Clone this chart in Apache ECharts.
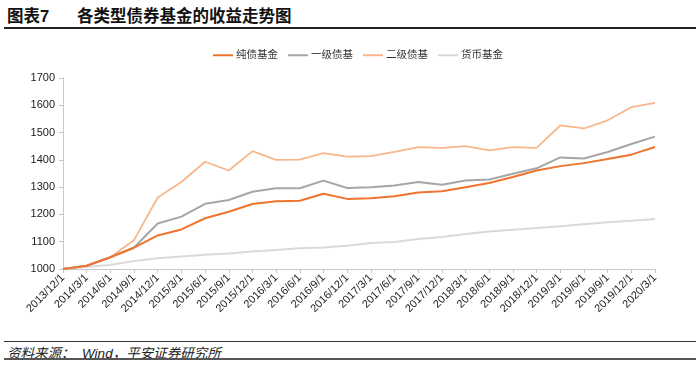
<!DOCTYPE html>
<html>
<head>
<meta charset="utf-8">
<script src="https://cdn.jsdelivr.net/npm/echarts@6/dist/echarts.min.js"></script>
<style>
html,body{margin:0;padding:0;background:#fff;}
#wrap{position:relative;width:700px;height:368px;font-family:"Liberation Sans","Noto Sans CJK SC",sans-serif;}
.title{position:absolute;top:3px;font-size:16.5px;font-weight:bold;color:#111;white-space:pre;}
#tline{position:absolute;left:4px;right:4px;top:27px;height:2px;background:#222;}
#chart{position:absolute;left:0;top:30px;width:700px;height:310px;}
#fline1{position:absolute;left:4px;right:4px;top:341px;height:1px;background:#333;}
#src{position:absolute;left:7px;top:342px;font-size:13.5px;font-style:italic;color:#222;white-space:pre;}
#fline2{position:absolute;left:4px;right:4px;top:358px;height:2px;background:#555;}
</style>
</head>
<body>
<div id="wrap">
<div class="title" style="left:7px">图表7</div>
<div class="title" style="left:77px">各类型债券基金的收益走势图</div>
<div id="tline"></div>
<div id="chart"></div>
<div id="fline1"></div>
<div id="src">资料来源：  Wind，平安证券研究所</div>
<div id="fline2"></div>
</div>
<script>
var categories = ["2013/12/1","2014/3/1","2014/6/1","2014/9/1","2014/12/1","2015/3/1","2015/6/1","2015/9/1","2015/12/1","2016/3/1","2016/6/1","2016/9/1","2016/12/1","2017/3/1","2017/6/1","2017/9/1","2017/12/1","2018/3/1","2018/6/1","2018/9/1","2018/12/1","2019/3/1","2019/6/1","2019/9/1","2019/12/1","2020/3/1"];
var pureBond = [1000,1012,1043,1078,1123,1145,1186,1210,1238,1248,1250,1276,1257,1259,1267,1280,1285,1300,1315,1337,1361,1377,1388,1403,1419,1447];
var primaryBond = [1000,1012,1043,1079,1167,1192,1239,1253,1283,1296,1296,1324,1297,1300,1306,1319,1309,1324,1328,1349,1369,1409,1405,1429,1458,1485];
var secondaryBond = [1000,1012,1043,1106,1262,1319,1393,1361,1432,1400,1401,1425,1412,1414,1429,1447,1444,1450,1435,1447,1444,1526,1515,1545,1593,1609];
var moneyFund = [1000,1008,1015,1029,1039,1046,1052,1057,1064,1070,1076,1079,1085,1095,1099,1110,1117,1128,1137,1144,1150,1157,1164,1171,1177,1183];
var seriesNames = ["纯债基金","一级债基","二级债基","货币基金"];
var colors = ["#F0732E","#A6A6A6","#F8B68A","#D9D9D9"];

var chart = echarts.init(document.getElementById('chart'));
var font = '"Liberation Sans","Noto Sans CJK SC",sans-serif';
var datas = [pureBond, primaryBond, secondaryBond, moneyFund];
var widths = [2, 2, 1.8, 2];
chart.setOption({
  animation:false,
  color: colors,
  textStyle:{fontFamily:font},
  legend:{
    top:15, left:208,
    itemWidth:20, itemHeight:2, itemGap:10,
    icon:'rect',
    textStyle:{fontSize:10.5,color:'#333',fontFamily:font,padding:[0,0,0,-2]},
    data: seriesNames
  },
  grid:{left:63, right:45, top:48, bottom:71, containLabel:false},
  xAxis:{
    type:'category', boundaryGap:false, data:categories,
    axisLine:{lineStyle:{color:'#C8C8C8',width:1}},
    axisTick:{show:true,alignWithLabel:true,length:4,lineStyle:{color:'#C8C8C8'}},
    axisLabel:{interval:0, rotate:45, fontSize:11, color:'#222', margin:7, fontFamily:font}
  },
  yAxis:{
    type:'value', min:1000, max:1700, interval:100,
    axisLine:{show:true,lineStyle:{color:'#C8C8C8'}},
    axisTick:{show:true,length:4,lineStyle:{color:'#C8C8C8'}},
    splitLine:{show:false},
    axisLabel:{fontSize:11,color:'#222',margin:8,fontFamily:font,formatter:function(v){return String(v);}}
  },
  series: seriesNames.map(function(n,i){
    return {name:n, type:'line', data:datas[i], symbol:'none', smooth:false,
      lineStyle:{width:widths[i], color:colors[i]}, z: 10 - i};
  })
});
</script>
</body>
</html>
